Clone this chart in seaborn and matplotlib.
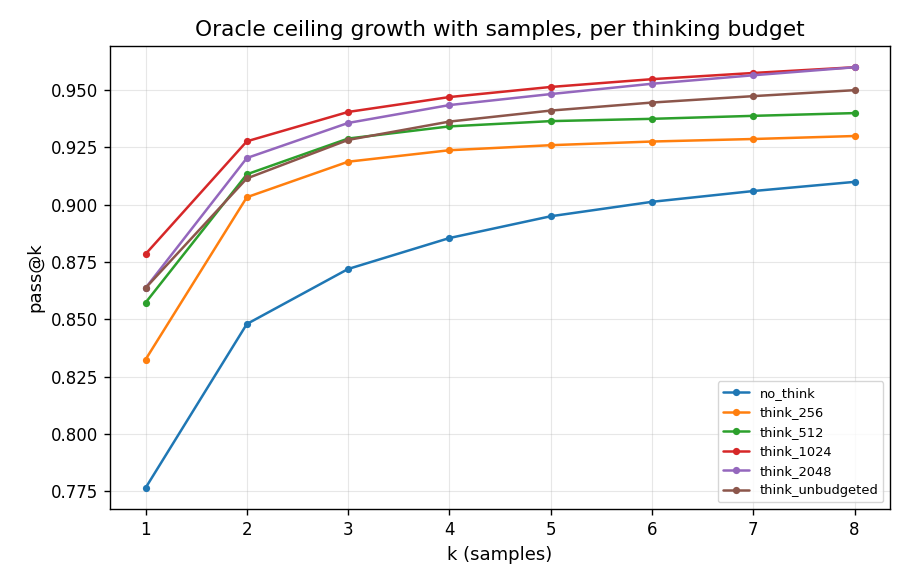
import pandas as pd
import matplotlib
matplotlib.use("Agg")
import matplotlib.pyplot as plt
import seaborn as sns

# -----------------------------------------------
# Datos
k_valores = [1, 2, 3, 4, 5, 6, 7, 8]
no_think = [0.7765, 0.848, 0.872, 0.8855, 0.895, 0.9013, 0.906, 0.910]
think_256 = [0.8325, 0.9033, 0.9188, 0.9238, 0.926, 0.9276, 0.9287, 0.930]
think_512 = [0.8573, 0.9133, 0.9289, 0.9342, 0.9365, 0.9375, 0.9388, 0.940]
think_1024 = [0.8785, 0.9277, 0.9405, 0.947, 0.9514, 0.9548, 0.9575, 0.960]
think_2048 = [0.8637, 0.9204, 0.9357, 0.9435, 0.9483, 0.9528, 0.9565, 0.960]
think_unbudgeted = [0.8637, 0.9115, 0.9283, 0.9363, 0.9411, 0.9446, 0.9474, 0.950]

series = {
    "no_think": no_think,
    "think_256": think_256,
    "think_512": think_512,
    "think_1024": think_1024,
    "think_2048": think_2048,
    "think_unbudgeted": think_unbudgeted,
}

filas = []
for nombre, valores in series.items():
    for k, v in zip(k_valores, valores):
        filas.append({"k": k, "pass@k": v, "budget": nombre})
df = pd.DataFrame(filas)

sns.set_style("white", {
    "text.color": "black", "axes.labelcolor": "black",
    "xtick.color": "black", "ytick.color": "black",
    "axes.edgecolor": "black", "grid.color": "#b0b0b0",
})
plt.rcParams["font.family"] = ["DejaVu Sans"]

fig, ax = plt.subplots(figsize=(9.1, 5.85), dpi=100)
sns.lineplot(data=df, x="k", y="pass@k", hue="budget", palette="tab10",
             marker="o", markersize=5.2, markeredgewidth=0, linewidth=1.8, ax=ax)

ax.set_title("Oracle ceiling growth with samples, per thinking budget", fontsize=15.6, pad=7)
ax.set_xlabel("k (samples)", fontsize=13, labelpad=5)
ax.set_ylabel("pass@k", fontsize=13, labelpad=5)
ax.set_xticks(k_valores)
ax.set_yticks([0.775, 0.800, 0.825, 0.850, 0.875, 0.900, 0.925, 0.950])
ax.yaxis.set_major_formatter(matplotlib.ticker.FormatStrFormatter("%.3f"))
ax.tick_params(axis="both", labelsize=12, direction="out", length=4.2, width=1,
               pad=4.2, left=True, bottom=True)
ax.grid(True, alpha=0.3)
for s in ax.spines.values():
    s.set_linewidth(1)

ax.legend(loc="lower right", fontsize=9.4, title=None, frameon=True)

plt.subplots_adjust(left=0.121, right=0.978, top=0.921, bottom=0.13)
plt.savefig("out.png", dpi=100)
plt.close()
